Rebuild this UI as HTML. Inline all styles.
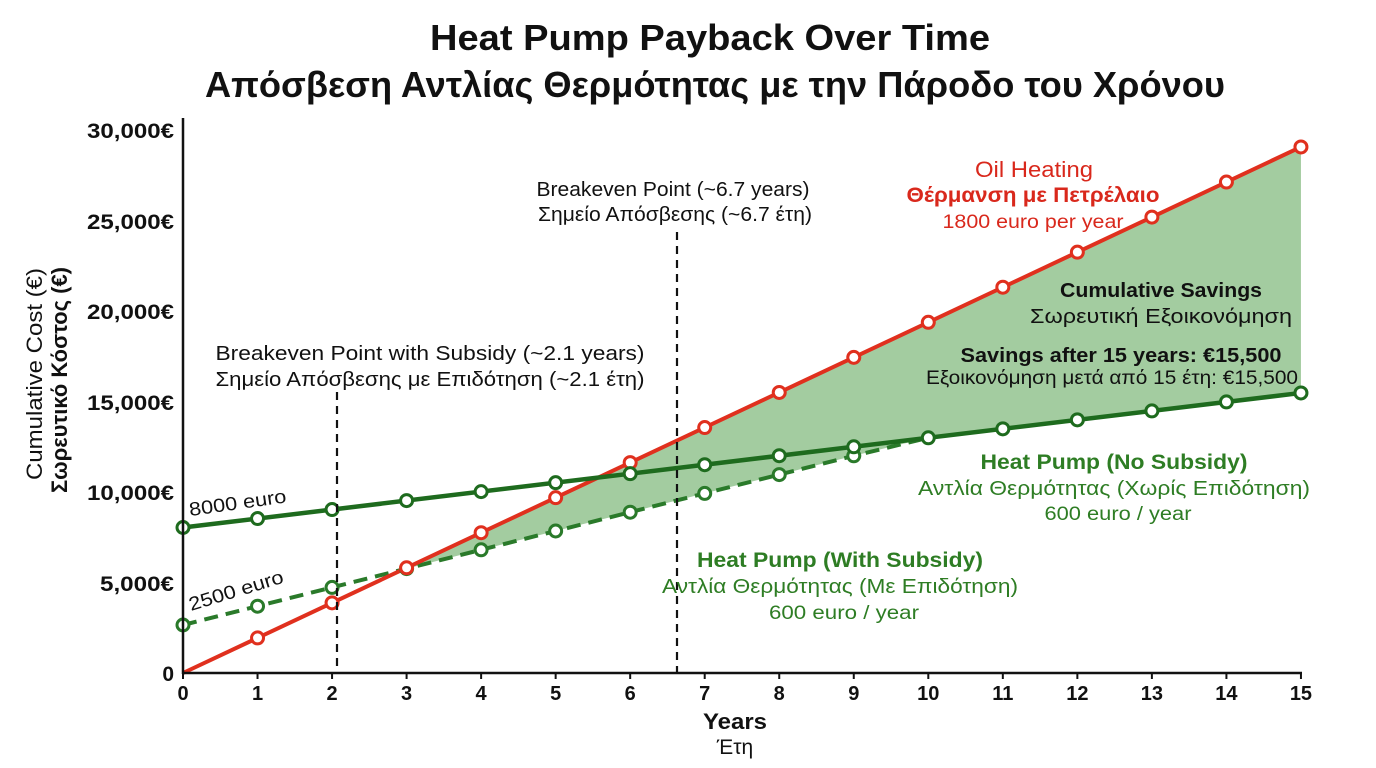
<!DOCTYPE html>
<html><head><meta charset="utf-8"><style>
html,body{margin:0;padding:0;background:#fff;}
svg{display:block;font-family:"Liberation Sans",sans-serif;}
</style></head><body>
<svg id="s" width="1376" height="768" viewBox="0 0 1376 768" xmlns="http://www.w3.org/2000/svg">
<g lengthAdjust="spacingAndGlyphs">
<text x="710" y="50" font-size="36" font-weight="bold" text-anchor="middle" fill="#111" textLength="560" lengthAdjust="spacingAndGlyphs">Heat Pump Payback Over Time</text>
<text x="715" y="97" font-size="36" font-weight="bold" text-anchor="middle" fill="#111" textLength="1020" lengthAdjust="spacingAndGlyphs">Απόσβεση Αντλίας Θερμότητας με την Πάροδο του Χρόνου</text>
</g>
<polygon id="fill" fill="#8cbf88" fill-opacity="0.8"/>
<g id="g"></g>
<line x1="337" y1="392" x2="337" y2="673" stroke="#111" stroke-width="2.2" stroke-dasharray="8,6"/>
<line x1="677" y1="232" x2="677" y2="673" stroke="#111" stroke-width="2.2" stroke-dasharray="8,6"/>
<line x1="183" y1="118" x2="183" y2="674" stroke="#111" stroke-width="2.5"/>
<line x1="182" y1="673" x2="1302" y2="673" stroke="#111" stroke-width="2.5"/>
<g font-size="21" text-anchor="end" fill="#111" font-weight="bold">
<text x="174" y="138" textLength="87" lengthAdjust="spacingAndGlyphs">30,000€</text><text x="174" y="229" textLength="87" lengthAdjust="spacingAndGlyphs">25,000€</text><text x="174" y="319" textLength="87" lengthAdjust="spacingAndGlyphs">20,000€</text>
<text x="174" y="410" textLength="87" lengthAdjust="spacingAndGlyphs">15,000€</text><text x="174" y="500" textLength="87" lengthAdjust="spacingAndGlyphs">10,000€</text><text x="174" y="591" textLength="74" lengthAdjust="spacingAndGlyphs">5,000€</text><text x="174" y="681">0</text>
</g>
<g id="xt" font-size="20" font-weight="bold" text-anchor="middle" fill="#111"></g>
<text x="735" y="729" font-size="22" font-weight="bold" text-anchor="middle" fill="#111" textLength="64" lengthAdjust="spacingAndGlyphs">Years</text>
<text x="735" y="754" font-size="21" text-anchor="middle" fill="#111">Έτη</text>
<text transform="translate(42,374) rotate(-90)" font-size="22" text-anchor="middle" fill="#111" textLength="212" lengthAdjust="spacingAndGlyphs">Cumulative Cost (€)</text>
<text transform="translate(67,380) rotate(-90)" font-size="22" font-weight="bold" text-anchor="middle" fill="#111" textLength="226" lengthAdjust="spacingAndGlyphs">Σωρευτικό Κόστος (€)</text>
<g font-size="20" text-anchor="middle" fill="#111">
<text x="673" y="196" textLength="273" lengthAdjust="spacingAndGlyphs">Breakeven Point (~6.7 years)</text>
<text x="675" y="221" textLength="274" lengthAdjust="spacingAndGlyphs">Σημείο Απόσβεσης (~6.7 έτη)</text>
<text x="430" y="360" textLength="429" lengthAdjust="spacingAndGlyphs">Breakeven Point with Subsidy (~2.1 years)</text>
<text x="430" y="386" textLength="429" lengthAdjust="spacingAndGlyphs">Σημείο Απόσβεσης με Επιδότηση (~2.1 έτη)</text>
</g>
<g text-anchor="middle" fill="#d9281c">
<text x="1034" y="177" font-size="22" textLength="118" lengthAdjust="spacingAndGlyphs">Oil Heating</text>
<text x="1033" y="202" font-size="21" font-weight="bold" textLength="253" lengthAdjust="spacingAndGlyphs">Θέρμανση με Πετρέλαιο</text>
<text x="1033" y="228" font-size="19" textLength="181" lengthAdjust="spacingAndGlyphs">1800 euro per year</text>
</g>
<g text-anchor="middle" fill="#111">
<text x="1161" y="297" font-size="20" font-weight="bold" textLength="202" lengthAdjust="spacingAndGlyphs">Cumulative Savings</text>
<text x="1161" y="323" font-size="20" textLength="262" lengthAdjust="spacingAndGlyphs">Σωρευτική Εξοικονόμηση</text>
<text x="1121" y="362" font-size="20" font-weight="bold" textLength="321" lengthAdjust="spacingAndGlyphs">Savings after 15 years: €15,500</text>
<text x="1112" y="384" font-size="19" textLength="372" lengthAdjust="spacingAndGlyphs">Εξοικονόμηση μετά από 15 έτη: €15,500</text>
</g>
<g text-anchor="middle" fill="#2e7d24">
<text x="1114" y="469" font-size="21" font-weight="bold" textLength="267" lengthAdjust="spacingAndGlyphs">Heat Pump (No Subsidy)</text>
<text x="1114" y="495" font-size="20" textLength="392" lengthAdjust="spacingAndGlyphs">Αντλία Θερμότητας (Χωρίς Επιδότηση)</text>
<text x="1118" y="520" font-size="19" textLength="147" lengthAdjust="spacingAndGlyphs">600 euro / year</text>
<text x="840" y="567" font-size="21" font-weight="bold" textLength="286" lengthAdjust="spacingAndGlyphs">Heat Pump (With Subsidy)</text>
<text x="840" y="593" font-size="20" textLength="356" lengthAdjust="spacingAndGlyphs">Αντλία Θερμότητας (Με Επιδότηση)</text>
<text x="844" y="619" font-size="19" textLength="150" lengthAdjust="spacingAndGlyphs">600 euro / year</text>
</g>
<text transform="translate(190,516) rotate(-8)" font-size="19" fill="#111" textLength="98" lengthAdjust="spacingAndGlyphs">8000 euro</text>
<text transform="translate(191,611) rotate(-17)" font-size="19" fill="#111" textLength="98" lengthAdjust="spacingAndGlyphs">2500 euro</text>
</svg>
<script>
var X=function(i){return 183+i*74.53};
var R=function(i){return 673-i*35.07};
var G=function(i){return 527.5-i*8.97};
var D=function(i){return 625-i*18.8};
var g=document.getElementById('g'),ns='http://www.w3.org/2000/svg';
function el(t,a){var e=document.createElementNS(ns,t);for(var k in a)e.setAttribute(k,a[k]);g.appendChild(e);return e;}
var p=[];for(var i=3;i<=15;i++)p.push(X(i)+','+R(i));
for(var i=15;i>=10;i--)p.push(X(i)+','+G(i));
for(var i=9;i>=3;i--)p.push(X(i)+','+D(i));
document.getElementById('fill').setAttribute('points',p.join(' '));
var gd='#1e6b1e',rd='#e0301e';
var dp=[];for(i=0;i<=9;i++)dp.push(X(i)+','+D(i));dp.push(X(10)+','+G(10));
el('polyline',{points:dp.join(' '),fill:'none',stroke:'#2a7a2a','stroke-width':4,'stroke-dasharray':'14,8'});
el('line',{x1:X(0),y1:R(0),x2:X(15),y2:R(15),stroke:rd,'stroke-width':4});
el('line',{x1:X(0),y1:G(0),x2:X(15),y2:G(15),stroke:gd,'stroke-width':4.5});
for(i=0;i<=9;i++)el('circle',{cx:X(i),cy:D(i),r:6,fill:'#fff',stroke:'#2a7a2a','stroke-width':3});
for(i=1;i<=15;i++)el('circle',{cx:X(i),cy:R(i),r:6,fill:'#fff',stroke:rd,'stroke-width':3});
for(i=0;i<=15;i++)el('circle',{cx:X(i),cy:G(i),r:6,fill:'#fff',stroke:gd,'stroke-width':3});
var xt=document.getElementById('xt');
for(i=0;i<=15;i++){var t=document.createElementNS(ns,'text');t.setAttribute('x',X(i));t.setAttribute('y',700);t.textContent=i;xt.appendChild(t);
var l=document.createElementNS(ns,'line');l.setAttribute('x1',X(i));l.setAttribute('x2',X(i));l.setAttribute('y1',673);l.setAttribute('y2',679);l.setAttribute('stroke','#111');l.setAttribute('stroke-width',2);xt.appendChild(l);}
</script>
</body></html>
